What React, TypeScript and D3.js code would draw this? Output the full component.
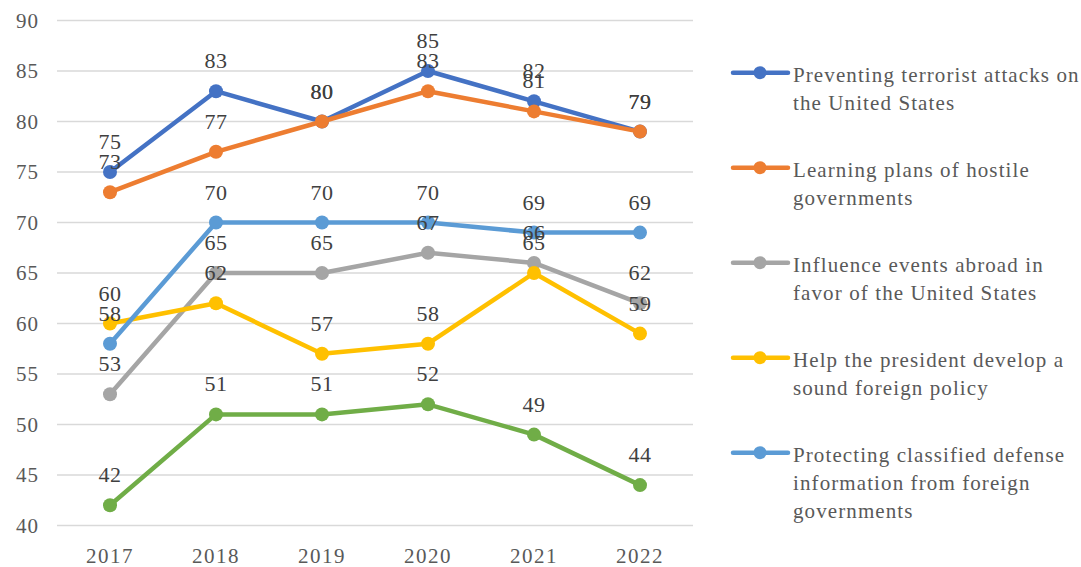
import React from 'react';
import * as d3 from 'd3';

const years = ['2017', '2018', '2019', '2020', '2021', '2022'];
const yTicks = [40, 45, 50, 55, 60, 65, 70, 75, 80, 85, 90];

const terrorism = [75, 83, 80, 85, 82, 79];
const hostilePlans = [73, 77, 80, 83, 81, 79];
const influence = [53, 65, 65, 67, 66, 62];
const foreignPolicy = [60, 62, 57, 58, 65, 59];
const classified = [58, 70, 70, 70, 69, 69];
const sixthSeries = [42, 51, 51, 52, 49, 44];

const series = [
  {name: ['Preventing terrorist attacks on', 'the United States'], color: '#4472C4', values: terrorism, legend: true},
  {name: ['Learning plans of hostile', 'governments'], color: '#ED7D31', values: hostilePlans, legend: true},
  {name: ['Influence events abroad in', 'favor of the United States'], color: '#A5A5A5', values: influence, legend: true},
  {name: ['Help the president develop a', 'sound foreign policy'], color: '#FFC000', values: foreignPolicy, legend: true},
  {name: ['Protecting classified defense', 'information from foreign', 'governments'], color: '#5B9BD5', values: classified, legend: true},
  {name: [''], color: '#70AD47', values: sixthSeries, legend: false},
];

const font = '"Liberation Serif", "Times New Roman", serif';

export default function App() {
  const width = 1081;
  const height = 567;

  const xScale = d3.scaleBand().domain(years).range([57, 693]);
  const yScale = d3.scaleLinear().domain([40, 90]).range([525.5, 20.5]);
  const cx = (i: number) => (xScale(years[i]) as number) + xScale.bandwidth() / 2;

  const line = d3.line<number>()
    .x((_, i) => cx(i))
    .y(d => yScale(d));

  const legendItems = series.filter(s => s.legend);

  return (
    <svg width={width} height={height} style={{position: 'absolute', left: 0, top: 0, background: '#fff'}}>
      {/* gridlines */}
      {yTicks.map(t => (
        <line key={t} x1={57} x2={693} y1={yScale(t)} y2={yScale(t)} stroke="#D9D9D9" strokeWidth={1.5} />
      ))}
      {yTicks.map(t => (
        <text key={t} x={39} y={yScale(t) + 7} textAnchor="end" fontFamily={font} fontSize={21} letterSpacing={1} fill="#595959">{t}</text>
      ))}
      {years.map((y, i) => (
        <text key={y} x={cx(i)} y={563} textAnchor="middle" fontFamily={font} fontSize={21} letterSpacing={1.5} fill="#595959">{y}</text>
      ))}

      {/* lines and markers */}
      {series.map(s => (
        <g key={s.color}>
          <path d={line(s.values) as string} fill="none" stroke={s.color} strokeWidth={4.5} strokeLinejoin="round" strokeLinecap="round" />
          {s.values.map((v, i) => (
            <circle key={i} cx={cx(i)} cy={yScale(v)} r={7} fill={s.color} />
          ))}
        </g>
      ))}

      {/* data labels */}
      {series.map(s => (
        <g key={`lbl-${s.color}`}>
          {s.values.map((v, i) => (
            <text key={i} x={cx(i)} y={yScale(v) - 23} textAnchor="middle" fontFamily={font} fontSize={22} letterSpacing={0.5} fill="#404040">{v}</text>
          ))}
        </g>
      ))}

      {/* legend */}
      {legendItems.map((s, k) => {
        const ly = 72.7 + k * 95;
        return (
          <g key={`leg-${s.color}`}>
            <line x1={733} x2={788} y1={ly} y2={ly} stroke={s.color} strokeWidth={4.5} strokeLinecap="round" />
            <circle cx={760} cy={ly} r={6.5} fill={s.color} />
            {s.name.map((n, j) => (
              <text key={j} x={793} y={ly + 9 + j * 28} fontFamily={font} fontSize={21} letterSpacing={1.1} fill="#595959">{n}</text>
            ))}
          </g>
        );
      })}
    </svg>
  );
}
